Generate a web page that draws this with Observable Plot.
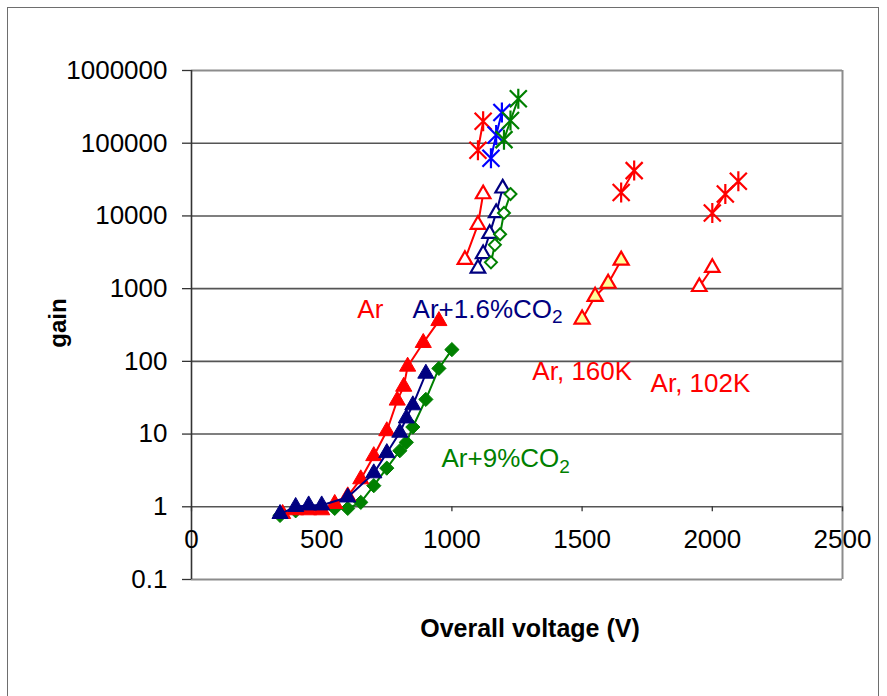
<!DOCTYPE html>
<html>
<head>
<meta charset="utf-8">
<script src="https://cdn.jsdelivr.net/npm/d3@7"></script>
<script src="https://cdn.jsdelivr.net/npm/@observablehq/plot@0.6"></script>
<style>
  html, body { margin: 0; padding: 0; background: #fff; }
  body { width: 887px; height: 696px; overflow: hidden; position: relative; font-family: "Liberation Sans", Arial, sans-serif; }
  #border { position: absolute; left: 7px; top: 7px; width: 872px; height: 760px; border: 1.5px solid #6e6e6e; box-sizing: border-box; }
  #chart { position: absolute; left: 0; top: 0; }
  .axlabel { position: absolute; font-weight: bold; font-size: 25px; color: #000; white-space: nowrap; }
  #ylab { left: 58px; top: 323px; transform: translate(-50%, -50%) rotate(-90deg); font-size: 24px; }
  #xlab { left: 530px; top: 628px; transform: translate(-50%, -50%); }
</style>
</head>
<body>
<div id="border"></div>
<div id="chart"></div>
<div id="ylab" class="axlabel">gain</div>
<div id="xlab" class="axlabel">Overall voltage (V)</div>
<script>
// ---- axis ticks ----
const xTicks = [0, 500, 1000, 1500, 2000, 2500];
const yTicks = [0.1, 1, 10, 100, 1000, 10000, 100000, 1000000];
const gridLevels = [1, 10, 100, 1000, 10000, 100000];

// ---- Ar (room temp), filled red triangles ----
const arV = [350, 400, 450, 500, 550, 600, 650, 700, 750, 790, 815, 830, 890, 950];
const arG = [0.8, 0.9, 0.9, 0.9, 1.1, 1.4, 2.4, 5, 11, 29, 45, 85, 180, 360];
// ---- Ar+1.6%CO2, filled navy triangles ----
const co16V = [340, 400, 450, 500, 600, 700, 750, 800, 825, 850, 900];
const co16G = [0.8, 1.0, 1.05, 1.05, 1.35, 2.9, 5.5, 10.5, 16.5, 25, 68];
// ---- Ar+9%CO2, filled green diamonds ----
const co9V = [340, 400, 550, 600, 650, 700, 750, 800, 825, 850, 900, 950, 1000];
const co9G = [0.76, 0.88, 0.95, 0.95, 1.15, 1.95, 3.4, 5.9, 7.7, 12.5, 30, 80, 145];

// ---- upper cluster: open markers ----
const arOpenV = [1050, 1100, 1120];
const arOpenG = [2500, 7600, 20000];
const co16OpenV = [1100, 1120, 1145, 1170, 1195];
const co16OpenG = [1900, 3000, 5700, 11000, 24000];
const co9OpenV = [1150, 1165, 1185, 1200, 1225];
const co9OpenG = [2300, 4000, 5600, 11000, 20000];

// ---- upper cluster: asterisks ----
const arStarV = [1100, 1120];
const arStarG = [80000, 200000];
const co16StarV = [1150, 1170, 1192];
const co16StarG = [62000, 130000, 265000];
const co9StarV = [1200, 1225, 1255];
const co9StarG = [112000, 205000, 410000];

// ---- Ar, 160K ----
const ar160TriV = [1500, 1550, 1600, 1650];
const ar160TriG = [380, 780, 1180, 2450];
const ar160StarV = [1650, 1700];
const ar160StarG = [21000, 42000];

// ---- Ar, 102K ----
const ar102TriV = [1950, 2000];
const ar102TriG = [1060, 1940];
const ar102StarV = [2000, 2050, 2100];
const ar102StarG = [11000, 20000, 30000];

// ---- annotations ----
const labelText = ["Ar", "Ar+1.6%CO2", "Ar, 160K", "Ar, 102K", "Ar+9%CO2"];
const labelV = [637, 849, 1309, 1763, 960];
const labelG = [521, 521, 72, 50, 4.6];
const labelColor = ["#ff0000", "#000080", "#ff0000", "#ff0000", "#008000"];

// ---- colours ----
const RED = "#ff0000", NAVY = "#000080", GREEN = "#008000", BLUE = "#0000ff";

// Excel-like star marker: vertical bar plus an X
const excelStar = {
  draw(ctx, size) {
    const r = Math.sqrt(size / Math.PI);
    const a = r * 0.85;
    ctx.moveTo(0, -r); ctx.lineTo(0, r);
    ctx.moveTo(-a, -a); ctx.lineTo(a, a);
    ctx.moveTo(-a, a); ctx.lineTo(a, -a);
  }
};

function table(v, g) { return v.map((x, i) => ({v: x, g: g[i]})); }

function series(v, g, color, kind) {
  const d = table(v, g);
  const marks = [Plot.line(d, {x: "v", y: "g", stroke: color, strokeWidth: 2})];
  if (kind === "tri") marks.push(Plot.dot(d, {x: "v", y: "g", symbol: "triangle", r: 6, fill: color, stroke: color, strokeWidth: 1}));
  else if (kind === "dia") marks.push(Plot.dot(d, {x: "v", y: "g", symbol: "diamond2", r: 6.4, fill: color, stroke: color, strokeWidth: 1}));
  else if (kind === "triOpen") marks.push(Plot.dot(d, {x: "v", y: "g", symbol: "triangle", r: 5.4, fill: "#fff", stroke: color, strokeWidth: 2.2}));
  else if (kind === "triYellow") marks.push(Plot.dot(d, {x: "v", y: "g", symbol: "triangle", r: 5.6, fill: "#ffff99", stroke: color, strokeWidth: 2.2}));
  else if (kind === "diaOpen") marks.push(Plot.dot(d, {x: "v", y: "g", symbol: "diamond2", r: 5.4, fill: "#fff", stroke: color, strokeWidth: 2}));
  else if (kind === "star") marks.push(Plot.dot(d, {x: "v", y: "g", symbol: excelStar, r: 10, fill: "none", stroke: color, strokeWidth: 2.2}));
  return marks;
}

const W = 887, H = 696, ML = 191, MR = 45, MT = 70, MB = 117;
const decadePx = (H - MT - MB) / (Math.log10(yTicks[yTicks.length - 1]) - Math.log10(yTicks[0]));
const labels = labelText.map((t, i) => ({t, v: labelV[i], g: labelG[i], c: labelColor[i]}));

const chart = Plot.plot({
  width: W, height: H,
  marginLeft: ML, marginRight: MR, marginTop: MT, marginBottom: MB,
  style: {fontFamily: "'Liberation Sans', Arial, sans-serif", fontSize: "26px", background: "transparent", overflow: "visible"},
  x: {domain: [xTicks[0], xTicks[xTicks.length - 1]]},
  y: {type: "log", domain: [yTicks[0], yTicks[yTicks.length - 1]]},
  marks: [
    Plot.ruleY(gridLevels, {stroke: "#555", strokeWidth: 1.6}),
    Plot.ruleY([yTicks[0], yTicks[yTicks.length - 1]], {stroke: "#8c8c8c", strokeWidth: 2}),
    Plot.ruleX([xTicks[xTicks.length - 1]], {stroke: "#8c8c8c", strokeWidth: 2}),
    Plot.ruleX([xTicks[0]], {stroke: "#333", strokeWidth: 1.6}),
    Plot.axisY(yTicks, {anchor: "left", tickSize: 9, tickPadding: 15, tickFormat: d => String(d), fontSize: 26, stroke: "#333", strokeWidth: 1.3, label: null}),
    Plot.axisX(xTicks, {anchor: "bottom", tickSize: 5, tickPadding: 18, dy: -decadePx, tickFormat: d => String(d), fontSize: 26, stroke: "#333", strokeWidth: 1.3, label: null}),
    // lower cluster
    ...series(co9V, co9G, GREEN, "dia"),
    ...series(arV, arG, RED, "tri"),
    ...series(co16V, co16G, NAVY, "tri"),
    // upper cluster open markers
    ...series(arOpenV, arOpenG, RED, "triOpen"),
    ...series(co16OpenV, co16OpenG, NAVY, "triOpen"),
    ...series(co9OpenV, co9OpenG, GREEN, "diaOpen"),
    // upper cluster stars
    ...series(arStarV, arStarG, RED, "star"),
    ...series(co16StarV, co16StarG, BLUE, "star"),
    ...series(co9StarV, co9StarG, GREEN, "star"),
    // 160K and 102K
    ...series(ar160TriV, ar160TriG, RED, "triYellow"),
    ...series(ar160StarV, ar160StarG, RED, "star"),
    ...series(ar102TriV, ar102TriG, RED, "triOpen"),
    ...series(ar102StarV, ar102StarG, RED, "star"),
    // annotations
    Plot.text(labels, {x: "v", y: "g", text: "t", fill: "c", textAnchor: "start", lineAnchor: "middle", fontSize: 26})
  ]
});

// subscript the 2 in CO2
d3.select(chart).selectAll("text").each(function() {
  const el = this;
  if (el.children.length === 0 && /CO2$/.test(el.textContent)) {
    const txt = el.textContent;
    el.textContent = txt.slice(0, -1);
    const ts = document.createElementNS("http://www.w3.org/2000/svg", "tspan");
    ts.setAttribute("dy", "0.3em");
    ts.setAttribute("font-size", "19");
    ts.textContent = "2";
    el.appendChild(ts);
  }
});

document.getElementById("chart").appendChild(chart);
</script>
</body>
</html>
